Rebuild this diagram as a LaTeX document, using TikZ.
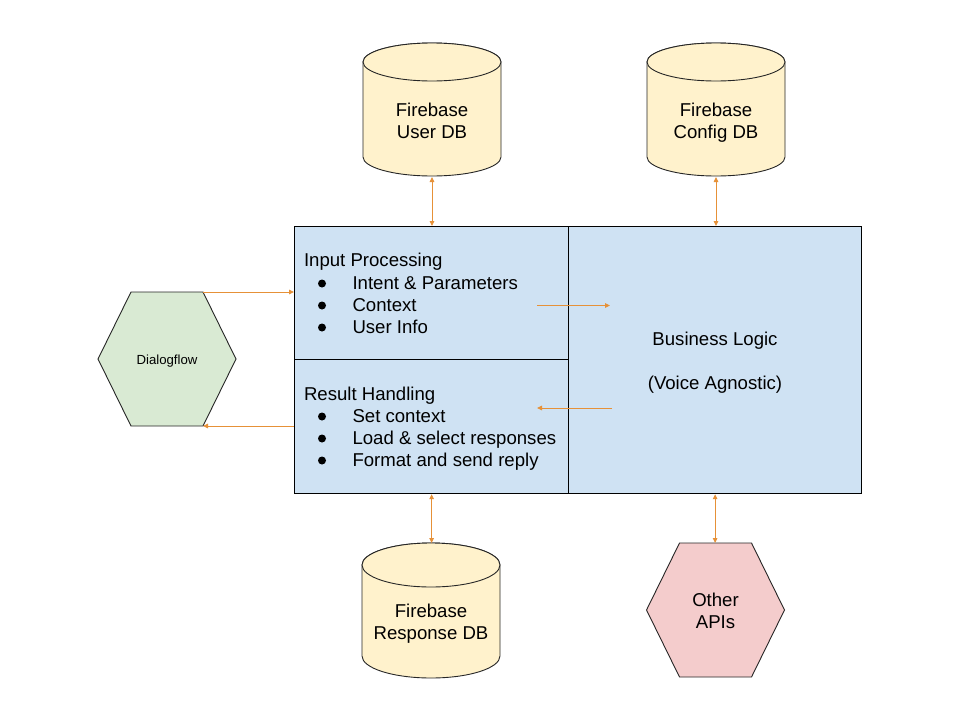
\documentclass[tikz,border=0pt]{standalone}
\usepackage{fontspec}
\setmainfont{Liberation Sans}
\usetikzlibrary{arrows.meta,calc}
\definecolor{cylfill}{HTML}{FFF2CC}
\definecolor{hexgreen}{HTML}{D9EAD3}
\definecolor{hexpink}{HTML}{F4CCCC}
\definecolor{boxblue}{HTML}{CFE2F3}
\definecolor{conncol}{HTML}{E69138}
\newcommand\mycyl[5]{%
  \filldraw[cylshape] (#1-#4,#2) -- (#1-#4,#3) arc[start angle=180,end angle=0,x radius=#4,y radius=#5] -- (#1+#4,#2) arc[start angle=0,end angle=-180,x radius=#4,y radius=#5] -- cycle;
  \draw[cylshape] (#1,#2) ellipse[x radius=#4,y radius=#5];}
\newcommand\myhex[3]{%
  \filldraw[hexshape,fill=#3] (#1,#2) +(-69,0) -- +(-36,-67) -- +(36,-67) -- +(69,0) -- +(36,67) -- +(-36,67) -- cycle;}
\tikzset{
  cylshape/.style={fill=cylfill,draw=black!85,line width=0.9pt},
  hexshape/.style={draw=black!85,line width=0.9pt},
  bluebox/.style={draw=black,fill=boxblue,line width=1.2pt,inner sep=0pt,anchor=north west},
  holder/.style={inner sep=0pt,outer sep=0pt},
  txt/.style={inner sep=0pt,outer sep=0pt,anchor=base,font=\fontsize{18.6}{22}\selectfont},
  ltxt/.style={txt,anchor=base west},
  conn/.style={draw=conncol,line width=0.9pt,-{Triangle[length=5pt,width=4.5pt]}},
  bconn/.style={draw=conncol,line width=0.9pt,{Triangle[length=5pt,width=4.5pt]}-{Triangle[length=5pt,width=4.5pt]}},
  bul/.style={fill=black}
}
\begin{document}
\begin{tikzpicture}[x=1pt,y=-1pt]
\useasboundingbox[fill=white] (0,0) rectangle (960,720);
% cylinders
\mycyl{432}{62}{157}{69}{19}
\mycyl{716}{62}{157}{69}{19}
\mycyl{431}{565}{656}{69}{22}
\node[holder,minimum width=138,minimum height=134] (userdb) at (432,110) {};
\node[holder,minimum width=138,minimum height=134] (configdb) at (716,110) {};
\node[holder,minimum width=138,minimum height=135] (respdb) at (431,610.5) {};
\node[txt] (userdb1) at (432,116) {Firebase};
\node[txt] (userdb2) at (432,138) {User DB};
\node[txt] (configdb1) at (716,116) {Firebase};
\node[txt] (configdb2) at (716,138) {Config DB};
\node[txt] (respdb1) at (431,617.5) {Firebase};
\node[txt] (respdb2) at (431,639) {Response DB};
% hexagons
\myhex{167}{359}{hexgreen}
\myhex{715.5}{610}{hexpink}
\node[holder,minimum width=72,minimum height=134] (dialog) at (167,359) {};
\node[holder,minimum width=72,minimum height=134] (other) at (715.5,610) {};
\node[txt,font=\fontsize{13.2}{16}\selectfont] (dialogtxt) at (167,364) {Dialogflow};
\node[txt] (other1) at (715.5,606) {Other};
\node[txt] (other2) at (715.5,628) {APIs};
% boxes
\node[bluebox,minimum width=274,minimum height=133] (inproc) at (294,226) {};
\node[bluebox,minimum width=274,minimum height=134] (reshand) at (294,359) {};
\node[bluebox,minimum width=293,minimum height=267] (bizlogic) at (568,226) {};
% box texts
\node[ltxt] (inproct) at (304,266.5) {Input Processing};
\fill[bul] (322,283.5) circle (4);
\fill[bul] (322,305.5) circle (4);
\fill[bul] (322,327.5) circle (4);
\node[ltxt] (inproc1) at (352.5,289) {Intent \& Parameters};
\node[ltxt] (inproc2) at (352.5,311) {Context};
\node[ltxt] (inproc3) at (352.5,333) {User Info};
\node[ltxt] (resht) at (304,400) {Result Handling};
\fill[bul] (322,416.5) circle (4);
\fill[bul] (322,438.5) circle (4);
\fill[bul] (322,460.5) circle (4);
\node[ltxt] (resh1) at (352.5,422) {Set context};
\node[ltxt] (resh2) at (352.5,444) {Load \& select responses};
\node[ltxt] (resh3) at (352.5,466) {Format and send reply};
\node[txt] (biz1) at (715,345) {Business Logic};
\node[txt] (biz2) at (715,389) {(Voice Agnostic)};
% connectors
\coordinate (fwdA) at (537,305.5);
\coordinate (fwdB) at (610,305.5);
\coordinate (backA) at (612,408);
\coordinate (backB) at (537,408);
\draw[conn] (fwdA) -- (fwdB);
\draw[conn] (backA) -- (backB);
\draw[bconn] (userdb.south) -- (userdb.south |- inproc.north);
\draw[bconn] (configdb.south) -- (configdb.south |- bizlogic.north);
\draw[bconn] (reshand.south) -- (reshand.south |- respdb.north);
\draw[bconn] (bizlogic.south) -- (bizlogic.south |- other.north);
\draw[conn] (dialog.north east) -- (dialog.north east -| inproc.west);
\draw[conn] (dialog.south east -| reshand.west) -- (dialog.south east);
\end{tikzpicture}
\end{document}
